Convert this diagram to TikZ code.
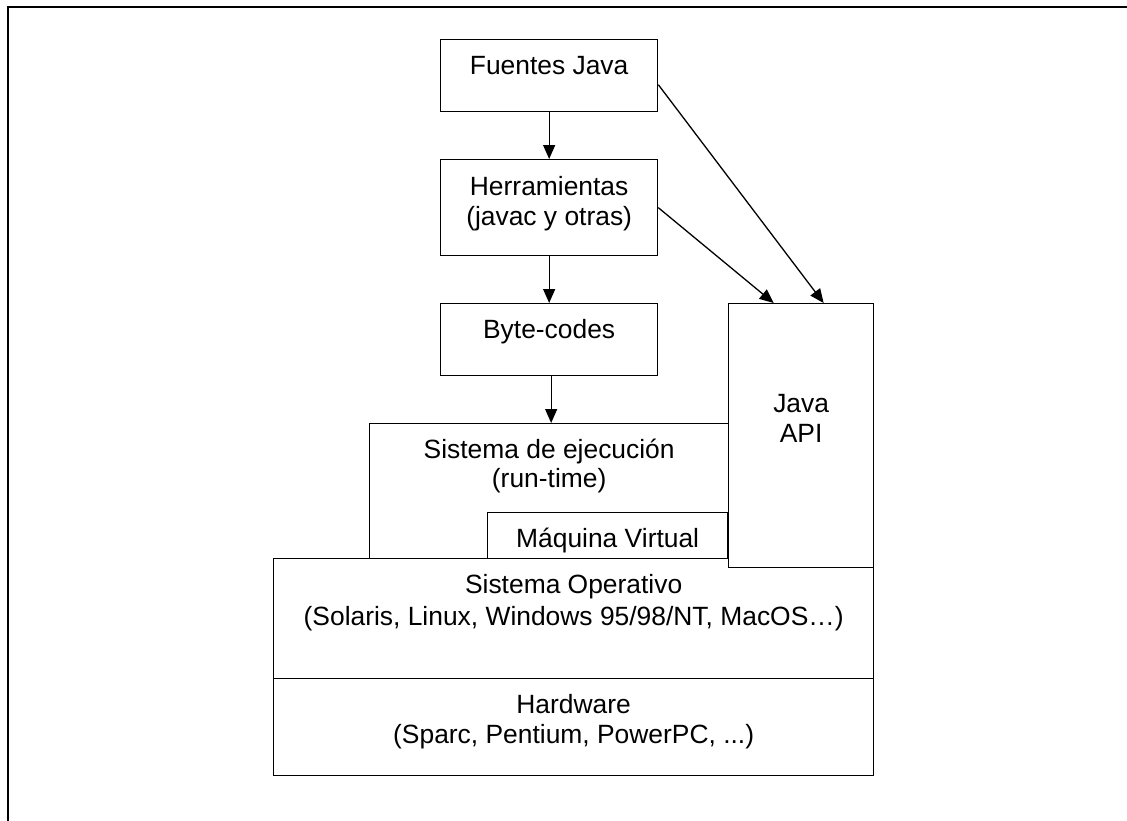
\documentclass[tikz,border=0pt]{standalone}
\usepackage{fontspec}
\setmainfont{Liberation Sans}
\usetikzlibrary{arrows.meta,calc}
\begin{document}
\begin{tikzpicture}[x=1pt,y=-1pt,
  box/.style={draw=black, line width=1.3pt, rectangle, inner sep=0pt, anchor=north west},
  txt/.style={anchor=base, inner sep=0pt, font=\fontsize{26.4}{30.4}\selectfont},
  arr/.style={line width=1.3pt, -{Triangle[length=14pt,width=12pt]}},
  frameline/.style={line width=2pt}]
\useasboundingbox (0,0) rectangle (1127,820);
% partial outer frame (top and left visible)
\coordinate (frTL) at (8,7);
\coordinate (frTR) at (1130,7);
\coordinate (frBL) at (8,823);
\draw[frameline] (frTR) -- (frTL) -- (frBL);
% boxes
\node[box, minimum width=217pt, minimum height=72pt] (fj) at (440,39) {};
\node[box, minimum width=217pt, minimum height=96pt] (he) at (440,159) {};
\node[box, minimum width=217pt, minimum height=72pt] (bc) at (440,303) {};
\node[box, minimum width=359pt, minimum height=135pt] (rt) at (369,423) {};
\node[box, minimum width=240pt, minimum height=46pt] (mv) at (487,512) {};
\node[box, minimum width=600pt, minimum height=120pt] (os) at (273,558) {};
\node[box, minimum width=600pt, minimum height=97pt] (hw) at (273,678) {};
\node[box, fill=white, minimum width=145pt, minimum height=264pt] (api) at (728,303) {};
% texts
\node[txt] at ($(fj.north)+(0,35)$) {Fuentes Java};
\node[txt] at ($(he.north)+(0,36)$) {Herramientas};
\node[txt] at ($(he.north)+(0,66)$) {(javac y otras)};
\node[txt] at ($(bc.north)+(0,35)$) {Byte-codes};
\node[txt] at ($(api.north)+(0,109)$) {Java};
\node[txt] at ($(api.north)+(0,139)$) {API};
\node[txt] at ($(rt.north)+(0,35)$) {Sistema de ejecución};
\node[txt] at ($(rt.north)+(0,64)$) {(run-time)};
\node[txt] at ($(mv.north)+(0,35)$) {Máquina Virtual};
\node[txt] at ($(os.north)+(0,35)$) {Sistema Operativo};
\node[txt] at ($(os.north)+(0,67)$) {(Solaris, Linux, Windows 95/98/NT, MacOS…)};
\node[txt] at ($(hw.north)+(0,35)$) {Hardware};
\node[txt] at ($(hw.north)+(0,65)$) {(Sparc, Pentium, PowerPC, ...)};
% connectors
\draw[arr] (fj.south) -- (he.north);
\draw[arr] (he.south) -- (bc.north);
\draw[arr] ([xshift=2pt]bc.south) -- ([xshift=2pt]bc.south |- rt.north);
\draw[arr] ([yshift=-9pt]fj.east) -- ([xshift=22.5pt]api.north);
\draw[arr] (he.east) -- ([xshift=-27.5pt]api.north);
\end{tikzpicture}
\end{document}
